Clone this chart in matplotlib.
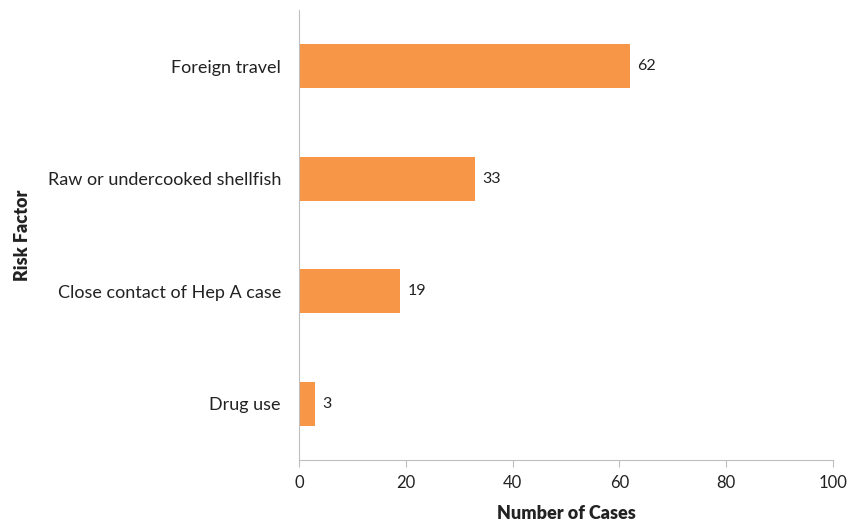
import matplotlib
matplotlib.use('Agg')
import matplotlib.pyplot as plt

# Risk factors, top to bottom as shown
FACTORS = ['Foreign travel', 'Raw or undercooked shellfish', 'Close contact of Hep A case', 'Drug use']
CASES = [62, 33, 19, 3]
X_TICKS = [0, 20, 40, 60, 80, 100]

plt.rcParams['font.family'] = ['Lato', 'DejaVu Sans']

fig = plt.figure(figsize=(8.48, 5.21), dpi=100)
ax = fig.add_axes([0.3526, 0.117, 0.6297, 0.864])

ypos = list(range(len(FACTORS)))[::-1]
ax.barh(ypos, CASES, height=0.39, color='#F79646')
for y, v in zip(ypos, CASES):
    ax.text(v + 1.3, y, str(v), va='center', ha='left', fontsize=11.5, color='#222222')

ax.set_xlim(0, 100)
ax.set_ylim(-0.5, len(FACTORS) - 0.5)
ax.set_xticks(X_TICKS)
ax.set_yticks(ypos)
ax.set_yticklabels(FACTORS, fontsize=13, color='#222222')
ax.tick_params(axis='x', labelsize=12, colors='#222222', length=5, color='#BFBFBF', pad=6)
ax.tick_params(axis='y', length=0, pad=13)

for s in ['top', 'right']:
    ax.spines[s].set_visible(False)
for s in ['left', 'bottom']:
    ax.spines[s].set_color('#BFBFBF')

ax.set_xlabel('Number of Cases', fontsize=13, fontweight='heavy', labelpad=10, color='#222222')
ax.set_ylabel('Risk Factor', fontsize=13, fontweight='heavy', labelpad=12, color='#222222')

fig.savefig('out.png', dpi=100)
